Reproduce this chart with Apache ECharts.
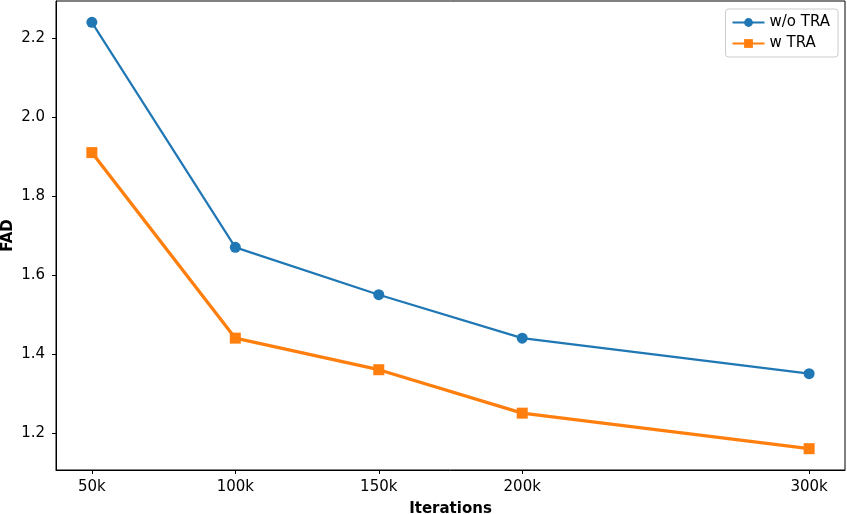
<!DOCTYPE html>
<html><head><meta charset="utf-8">
<script src="https://cdn.jsdelivr.net/npm/echarts@6/dist/echarts.min.js"></script>
<style>html,body{margin:0;padding:0;background:#fff}#c{width:847px;height:514px}</style>
</head><body><div id="c"></div>
<script>
const iterations = [50000, 100000, 150000, 200000, 300000];
const woTRA = [2.24, 1.67, 1.55, 1.44, 1.35];
const wTRA = [1.91, 1.44, 1.36, 1.25, 1.16];
const yTicks = [1.2, 1.4, 1.6, 1.8, 2.0, 2.2];
const seriesNames = ['w/o TRA', 'w TRA'];
const font = 'DejaVu Sans';
const chart = echarts.init(document.getElementById('c'), null, {renderer: 'canvas'});
chart.setOption({
  animation: false,
  backgroundColor: '#fff',
  textStyle: {fontFamily: font},
  grid: {left: 56, right: 2, top: 1, bottom: 44, show: true, borderColor: '#000', borderWidth: 1,
         containLabel: false, outerBoundsMode: 'none'},
  legend: {
    orient: 'vertical', right: 9, top: 9,
    data: seriesNames,
    itemWidth: 32, itemHeight: 11, itemGap: 6,
    padding: [6, 8, 6, 6],
    borderColor: '#cccccc', borderWidth: 1, borderRadius: 3,
    textStyle: {fontFamily: font, fontSize: 15, color: '#000'}
  },
  xAxis: {
    type: 'value', min: 37500, max: 312500,
    name: 'Iterations', nameLocation: 'middle', nameGap: 32, nameMoveOverlap: false,
    nameTextStyle: {fontFamily: font, fontSize: 15, fontWeight: 'bold', color: '#000'},
    axisLine: {show: true, onZero: false, lineStyle: {color: '#000', width: 1}},
    axisTick: {show: true, length: 4, lineStyle: {color: '#000'}, customValues: iterations},
    axisLabel: {customValues: iterations, fontSize: 15, color: '#000', margin: 10, fontFamily: font,
      formatter: v => Math.round(v / 1000) + 'k'},
    splitLine: {show: false}
  },
  yAxis: {
    type: 'value', min: 1.106, max: 2.294,
    name: 'FAD', nameLocation: 'middle', nameGap: 40, nameMoveOverlap: false,
    nameTextStyle: {fontFamily: font, fontSize: 15, fontWeight: 'bold', color: '#000'},
    axisLine: {show: true, onZero: false, lineStyle: {color: '#000', width: 1}},
    axisTick: {show: true, length: 4, lineStyle: {color: '#000'}, customValues: yTicks},
    axisLabel: {customValues: yTicks, fontSize: 15, color: '#000', margin: 11, fontFamily: font,
      formatter: v => v.toFixed(1)},
    splitLine: {show: false}
  },
  series: [
    {name: seriesNames[0], type: 'line', data: iterations.map((x, i) => [x, woTRA[i]]),
     color: '#1f77b4', symbol: 'circle', symbolSize: 11,
     lineStyle: {width: 2.2, color: '#1f77b4'}, itemStyle: {color: '#1f77b4'}},
    {name: seriesNames[1], type: 'line', data: iterations.map((x, i) => [x, wTRA[i]]),
     color: '#ff7f0e', symbol: 'rect', symbolSize: 11,
     lineStyle: {width: 3.3, color: '#ff7f0e'}, itemStyle: {color: '#ff7f0e'}}
  ]
});
</script></body></html>
